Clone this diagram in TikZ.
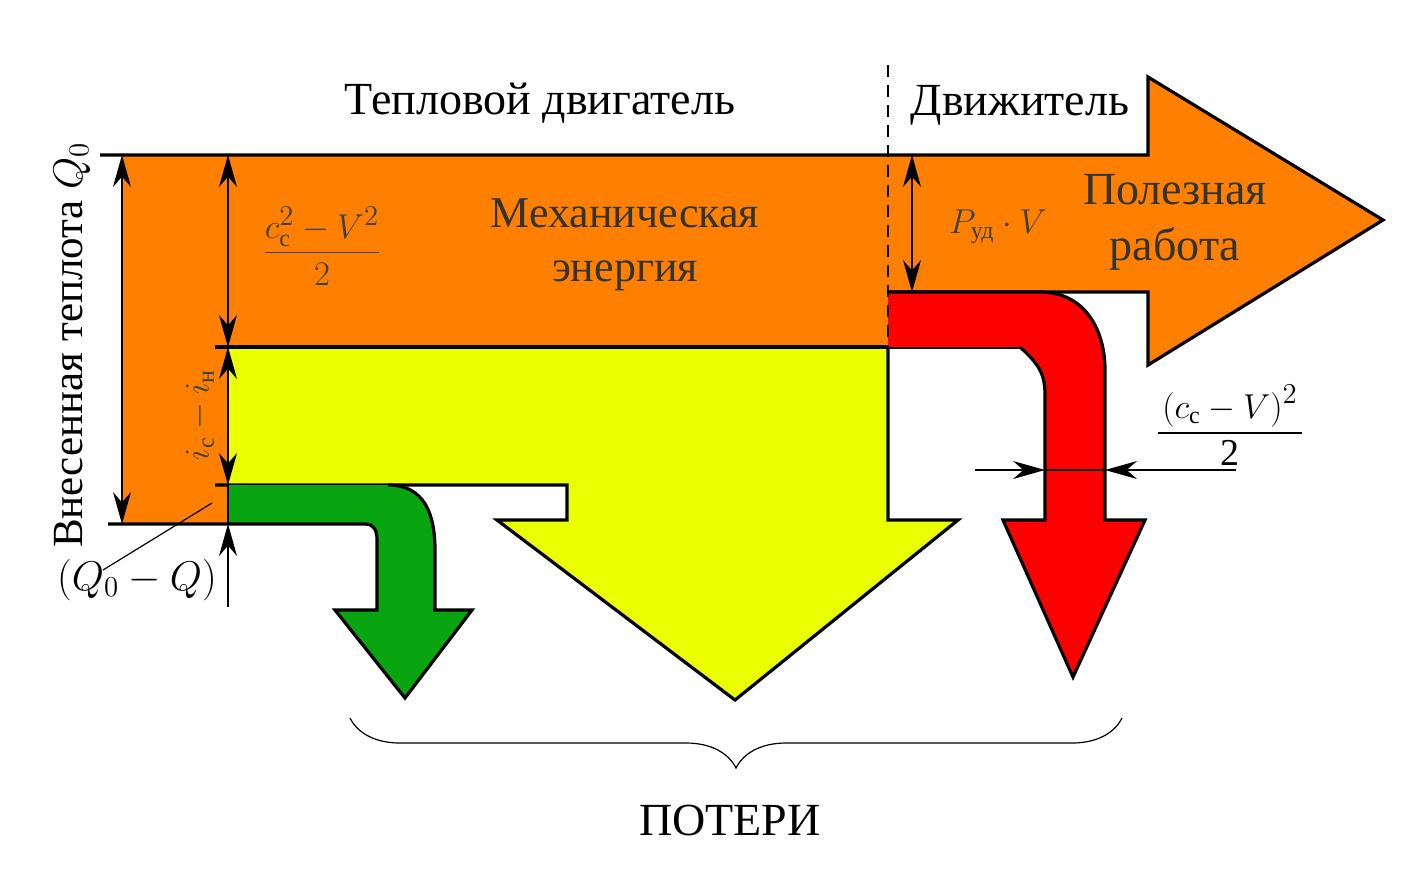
\documentclass[tikz,border=0pt]{standalone}
\usepackage{amsmath}
\usepackage{fontspec}
\setmainfont{Liberation Serif}
\usetikzlibrary{arrows.meta,decorations.pathreplacing}
\definecolor{cOr}{RGB}{255,128,0}
\definecolor{cYe}{RGB}{234,255,0}
\definecolor{cGr}{RGB}{8,165,16}
\definecolor{cRe}{RGB}{255,0,0}
\tikzset{
  flow/.style={draw=black,line width=1.6pt,line join=miter},
  dim/.style={line width=0.6pt,{Stealth[length=16pt,width=9pt]}-{Stealth[length=16pt,width=9pt]}},
  dimone/.style={line width=0.6pt,-{Stealth[length=16pt,width=9pt]}},
  lbl/.style={font=\fontsize{23}{26}\selectfont,align=center,inner sep=0pt},
  flbl/.style={font=\fontsize{19}{22}\selectfont,inner sep=0pt,text=black!75}
}
\begin{document}
\begin{tikzpicture}[x=0.5pt,y=-0.5pt]
\useasboundingbox (0,0) rectangle (1416,869);
\fill[cOr] (122,155) -- (1148,155) -- (1148,77) -- (1383,220) -- (1148,365) -- (1148,292) -- (888,292) -- (888,347) -- (228,347) -- (228,524) -- (122,524) -- cycle;
\draw[flow] (100,155) -- (1148,155) -- (1148,77) -- (1383,220) -- (1148,365) -- (1148,292) -- (888,292);
\fill[cYe] (228,347) -- (888,347) -- (888,520) -- (958,520) -- (735,700) -- (497,520) -- (567,520) -- (567,485) -- (228,485) -- cycle;
\draw[flow] (215,347) -- (1020,347);
\draw[flow] (888,347) -- (888,520) -- (958,520) -- (735,700) -- (497,520) -- (567,520) -- (567,485) -- (215,485);
\fill[cGr] (228,485) -- (388,485) .. controls (425,485) and (435,515) .. (435,550) -- (435,610) -- (472,610) -- (405,698) -- (335,610) -- (377,610) -- (377,540) .. controls (377,530) and (374,524) .. (365,524) -- (228,524) -- cycle;
\draw[flow] (388,485) .. controls (425,485) and (435,515) .. (435,550) -- (435,610) -- (472,610) -- (405,698) -- (335,610) -- (377,610) -- (377,540) .. controls (377,530) and (374,524) .. (365,524) -- (108,524);
\fill[cRe] (888,292) -- (1040,292) .. controls (1085,292) and (1105,330) .. (1105,370) -- (1105,520) -- (1145,520) -- (1073,677) -- (1003,520) -- (1045,520) -- (1045,395) .. controls (1045,375) and (1040,365) .. (1020,347) -- (888,347) -- cycle;
\draw[flow] (888,292) -- (1040,292) .. controls (1085,292) and (1105,330) .. (1105,370) -- (1105,520) -- (1145,520) -- (1073,677) -- (1003,520) -- (1045,520) -- (1045,395) .. controls (1045,375) and (1040,365) .. (1020,347);
\draw[line width=0.8pt,dash pattern=on 6pt off 4pt] (888,65) -- (888,347);
\coordinate (t1) at (122,155); \coordinate (b1) at (122,524);
\coordinate (t2) at (228,155); \coordinate (m2) at (228,347); \coordinate (n2) at (228,485);
\coordinate (g2) at (228,524); \coordinate (e2) at (228,607);
\coordinate (t3) at (912,155); \coordinate (b3) at (912,292);
\coordinate (hl) at (975,470); \coordinate (hr) at (1045,470);
\coordinate (hR) at (1236,470); \coordinate (hr2) at (1105,470);
\coordinate (ld1) at (212,503); \coordinate (ld2) at (103,570);
\draw[dim] (t1) -- (b1);
\draw[dim] (t2) -- (m2);
\draw[dim] (m2) -- (n2);
\draw[line width=0.6pt] (n2) -- (g2);
\draw[dimone] (e2) -- (g2);
\draw[dim] (t3) -- (b3);
\draw[dimone] (hl) -- (hr);
\draw[dimone] (hR) -- (hr2);
\draw[line width=0.6pt] (hr) -- (hr2);
\draw[line width=0.6pt] (ld1) -- (ld2);
\node[lbl] (tt) at (540,103) {Тепловой двигатель};
\node[lbl] (td) at (1020,105) {Движитель};
\node[lbl,text=black!80,font=\fontsize{22}{25}\selectfont] (tm) at (625,245) {Механическая\\[2pt]энергия};
\node[lbl,text=black!80] (tp) at (1175,222) {Полезная\\[2pt]работа};
\node[lbl] (tpt) at (730,820) {ПОТЕРИ};
\node[lbl,rotate=90,font=\fontsize{21.5}{24}\selectfont] (tq) at (72,345) {Внесенная теплота $Q_0$};
\node[lbl,font=\fontsize{21}{24}\selectfont] (tq2) at (137,580) {$(Q_0-Q)$};
\node[flbl] (f1) at (322,246) {$\dfrac{c_{\mbox{\fontsize{12}{12}\selectfont с}}^2-V^2}{2}$};
\node[flbl,rotate=90] (f2) at (200,415) {$i_{\mbox{\fontsize{12}{12}\selectfont с}}-i_{\mbox{\fontsize{12}{12}\selectfont н}}$};
\node[flbl] (f3) at (998,227) {$P_{\mbox{\fontsize{12}{12}\selectfont уд}}\cdot V$};
\node[flbl,text=black] (f4) at (1230,425) {$\dfrac{\left(c_{\mbox{\fontsize{12}{12}\selectfont с}}-V\right)^2}{\makebox[72pt]{2}}$};
\draw[decorate,decoration={brace,mirror,amplitude=25pt},line width=0.6pt] (350,718) -- (1122,718);
\end{tikzpicture}
\end{document}
